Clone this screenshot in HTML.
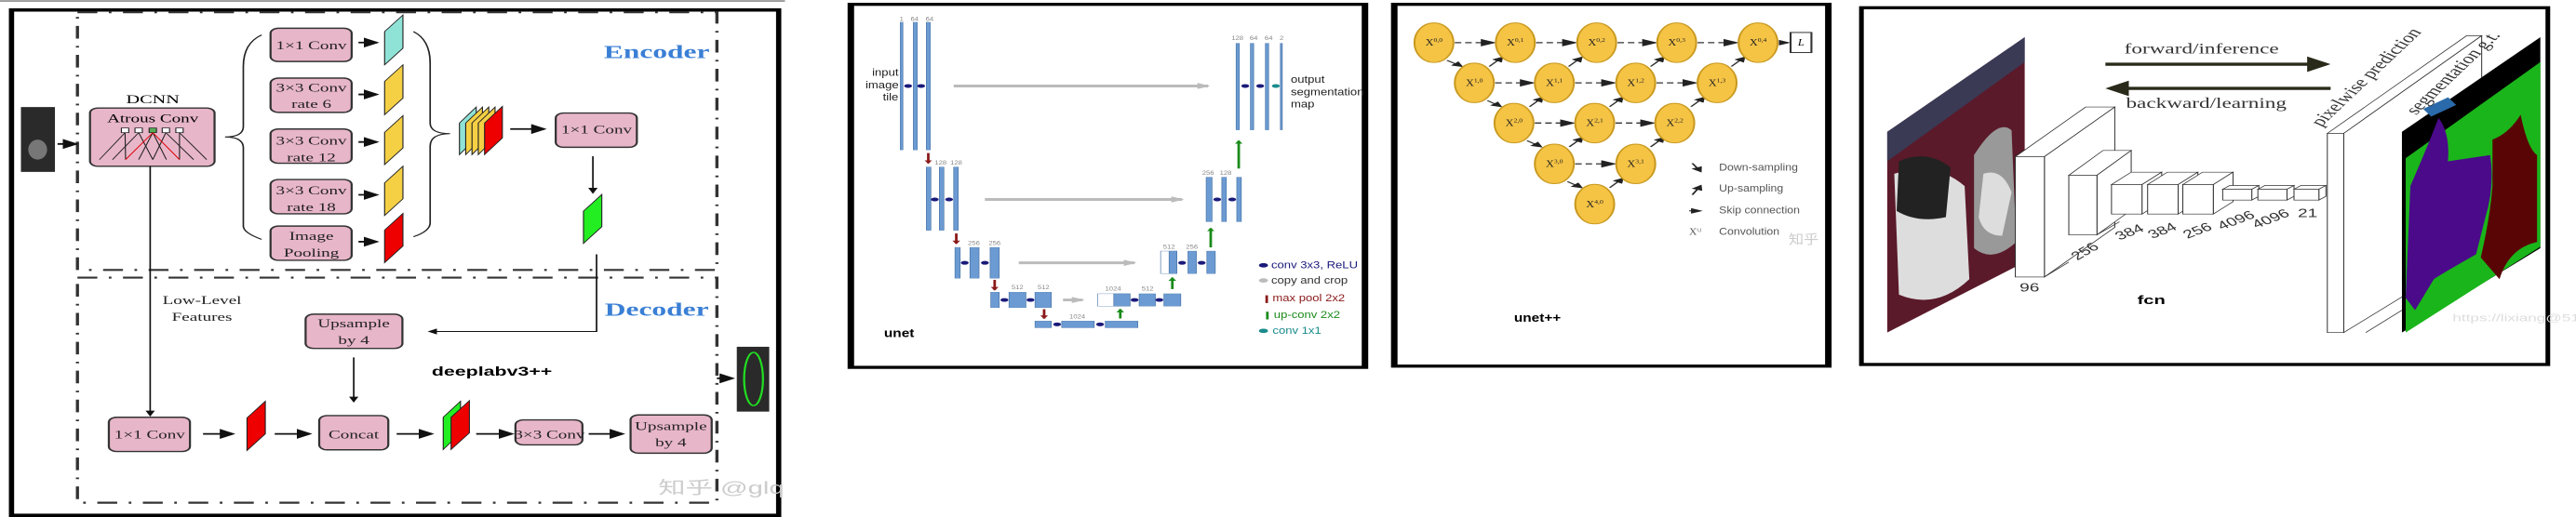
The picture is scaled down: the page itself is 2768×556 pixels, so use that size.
<!DOCTYPE html>
<html><head><meta charset="utf-8"><style>
html,body{margin:0;padding:0;background:#fff;}
body{width:2768px;height:556px;position:relative;overflow:hidden;}
svg{position:absolute;top:0;}
.s{font-family:"Liberation Serif","Noto Serif CJK SC",serif;}
.a{font-family:"Liberation Sans","Noto Sans CJK SC",sans-serif;}
</style></head><body>
<!-- Panel 1: deeplabv3++ -->
<svg style="left:0;width:880px;height:556px" viewBox="0 0 1565 1555" preserveAspectRatio="none">
<defs>
<marker id="ah" markerWidth="6" markerHeight="6" refX="5" refY="3" orient="auto" markerUnits="strokeWidth"><path d="M0,0 L6,3 L0,6 z" fill="#111"/></marker>
</defs>
<line x1="0" y1="3" x2="1500" y2="3" stroke="#999" stroke-width="5"/>
<rect x="22" y="30" width="1466" height="1520" fill="#fff" stroke="#000" stroke-width="10"/>
<rect x="148" y="37" width="1222" height="775" fill="none" stroke="#333" stroke-width="6" stroke-dasharray="38,22,5,22"/>
<rect x="148" y="835" width="1222" height="677" fill="none" stroke="#333" stroke-width="6" stroke-dasharray="38,22,5,22"/>
<rect x="40" y="322" width="65" height="195" fill="#2a2a2a"/>
<ellipse cx="72" cy="450" rx="18" ry="30" fill="#777"/>
<line x1="110" y1="433" x2="145" y2="433" stroke="#111" stroke-width="5" marker-end="url(#ah)"/>
<text class="s" x="292" y="310" font-size="36" text-anchor="middle">DCNN</text>
<g>
<rect x="172" y="325" width="238" height="175" rx="15" fill="#e8b6c9" stroke="#333" stroke-width="4"/>
<text class="s" x="292" y="368" font-size="34" text-anchor="middle">Atrous Conv</text>
<g stroke="#222" stroke-width="2" fill="#fff">
<rect x="232" y="385" width="14" height="14"/><rect x="258" y="385" width="14" height="14"/><rect x="285" y="385" width="14" height="14" fill="#5a5"/><rect x="310" y="385" width="14" height="14"/><rect x="336" y="385" width="14" height="14"/>
<path d="M239,399 L190,480 M239,399 L240,480 M265,399 L215,480 M265,399 L292,480 M292,399 L265,480 M292,399 L318,480 M317,399 L292,480 M317,399 L370,480 M343,399 L343,480 M343,399 L395,480" fill="none"/>
</g>
<path d="M292,399 L240,480 M292,399 L343,480" stroke="#d00" stroke-width="2"/>
</g>
<path d="M500,105 Q465,130 465,200 L465,380 Q465,412 430,412 Q465,412 465,445 L465,680 Q465,700 500,720" fill="none" stroke="#222" stroke-width="3"/>
<path d="M790,95 Q822,120 822,190 L822,370 Q822,402 860,402 Q822,402 822,440 L822,670 Q822,695 790,712" fill="none" stroke="#222" stroke-width="3"/>
<g stroke="#333" stroke-width="4">
<rect x="517" y="85" width="155" height="100" rx="15" fill="#e8b6c9"/>
<rect x="517" y="235" width="155" height="103" rx="15" fill="#e8b6c9"/>
<rect x="517" y="388" width="155" height="103" rx="15" fill="#e8b6c9"/>
<rect x="517" y="540" width="155" height="103" rx="15" fill="#e8b6c9"/>
<rect x="517" y="680" width="155" height="103" rx="15" fill="#e8b6c9"/>
<rect x="1062" y="340" width="155" height="103" rx="15" fill="#e8b6c9"/>
<rect x="584" y="945" width="185" height="103" rx="15" fill="#e8b6c9"/>
<rect x="208" y="1255" width="155" height="103" rx="15" fill="#e8b6c9"/>
<rect x="610" y="1250" width="132" height="103" rx="15" fill="#e8b6c9"/>
<rect x="985" y="1263" width="128" height="75" rx="15" fill="#e8b6c9"/>
<rect x="1205" y="1248" width="155" height="115" rx="15" fill="#e8b6c9"/>
</g>
<g class="s" font-size="34" text-anchor="middle" fill="#222">
<text x="595" y="148">1×1 Conv</text>
<text x="595" y="275">3×3 Conv</text><text x="595" y="325">rate 6</text>
<text x="595" y="435">3×3 Conv</text><text x="595" y="485">rate 12</text>
<text x="595" y="585">3×3 Conv</text><text x="595" y="635">rate 18</text>
<text x="595" y="722">Image</text><text x="595" y="772">Pooling</text>
<text x="1140" y="402">1×1 Conv</text>
<text x="676" y="985">Upsample</text><text x="676" y="1035">by 4</text>
<text x="286" y="1318">1×1 Conv</text>
<text x="676" y="1318">Concat</text>
<text x="1050" y="1318">3×3 Conv</text>
<text x="1282" y="1293">Upsample</text><text x="1282" y="1343">by 4</text>
<text x="386" y="915">Low-Level</text><text x="386" y="965">Features</text>
</g>
<g stroke="#111" stroke-width="5" marker-end="url(#ah)">
<line x1="685" y1="128" x2="720" y2="128"/><line x1="685" y1="284" x2="720" y2="284"/><line x1="685" y1="427" x2="720" y2="427"/><line x1="685" y1="586" x2="720" y2="586"/><line x1="685" y1="727" x2="720" y2="727"/>
<line x1="975" y1="388" x2="1040" y2="388"/>
<line x1="388" y1="1305" x2="445" y2="1305"/><line x1="525" y1="1305" x2="592" y2="1305"/><line x1="758" y1="1305" x2="825" y2="1305"/><line x1="910" y1="1305" x2="978" y2="1305"/><line x1="1125" y1="1305" x2="1190" y2="1305"/>
<line x1="1370" y1="1138" x2="1400" y2="1138"/>
</g>
<g stroke="#111" stroke-width="3" marker-end="url(#ah)">
<line x1="1133" y1="470" x2="1133" y2="580"/>
<line x1="676" y1="1075" x2="676" y2="1208"/>
<line x1="287" y1="500" x2="287" y2="1250"/>
<polyline points="1140,765 1140,997 820,997" fill="none"/>
</g>
<g stroke="#222" stroke-width="2">
<polygon points="735,95 770,45 770,145 735,195" fill="#8fe3d6"/>
<polygon points="735,245 770,195 770,295 735,345" fill="#f5d044"/>
<polygon points="735,398 770,348 770,445 735,495" fill="#f5d044"/>
<polygon points="735,550 770,500 770,598 735,648" fill="#f5d044"/>
<polygon points="735,692 770,642 770,740 735,790" fill="#e00"/>
<polygon points="878,370 910,322 910,415 878,465" fill="#8fe3d6"/>
<polygon points="890,370 922,322 922,415 890,465" fill="#f5d044"/>
<polygon points="902,370 934,322 934,415 902,465" fill="#f5d044"/>
<polygon points="914,370 946,322 946,415 914,465" fill="#f5d044"/>
<polygon points="926,370 960,320 960,415 926,465" fill="#e00"/>
<polygon points="1115,635 1150,585 1150,682 1115,732" fill="#2e2"/>
<polygon points="472,1257 507,1207 507,1305 472,1355" fill="#e00"/>
<polygon points="847,1255 880,1207 880,1302 847,1352" fill="#2e2"/>
<polygon points="862,1255 897,1205 897,1302 862,1352" fill="#e00"/>
</g>
<rect x="1408" y="1043" width="62" height="195" fill="#2a2a2a"/>
<ellipse cx="1440" cy="1140" rx="18" ry="80" fill="none" stroke="#2d2" stroke-width="4"/>
<text class="s" x="1255" y="175" font-size="56" font-weight="bold" fill="#3a7fd5" text-anchor="middle">Encoder</text>
<text class="s" x="1255" y="950" font-size="56" font-weight="bold" fill="#3a7fd5" text-anchor="middle">Decoder</text>
<text class="a" x="825" y="1130" font-size="38" font-weight="bold">deeplabv3++</text>
<text class="a" x="1258" y="1485" font-size="52" fill="#ccc">知乎 @glq</text>
</svg>

<!-- Panels 2 & 3 -->
<svg id="p23" style="left:880px;width:1100px;height:420px" viewBox="0 0 1573 1263" preserveAspectRatio="none">
<defs>
<marker id="bh" markerWidth="6" markerHeight="6" refX="5" refY="3" orient="auto" markerUnits="strokeWidth"><path d="M0,0 L6,3 L0,6 z" fill="#222"/></marker>
<marker id="gh" viewBox="0 0 6 6" markerWidth="2.2" markerHeight="2.2" refX="5" refY="3" orient="auto" markerUnits="strokeWidth"><path d="M0,0 L6,3 L0,6 z" fill="#bbb"/></marker>
<marker id="rh" viewBox="0 0 6 6" markerWidth="3" markerHeight="3" refX="5" refY="3" orient="auto" markerUnits="strokeWidth"><path d="M0,0 L6,3 L0,6 z" fill="#8b1a1a"/></marker>
<marker id="vh" viewBox="0 0 6 6" markerWidth="3" markerHeight="3" refX="5" refY="3" orient="auto" markerUnits="strokeWidth"><path d="M0,0 L6,3 L0,6 z" fill="#1a8b1a"/></marker>
</defs>
<rect x="49" y="14" width="790" height="1174" fill="#fff" stroke="#000" stroke-width="10"/>
<g fill="#6b9bd2" stroke="#4a75a8" stroke-width="1">
<rect x="125" y="72" width="4" height="413"/><rect x="145" y="72" width="6" height="413"/><rect x="165" y="72" width="6" height="413"/>
<rect x="641" y="140" width="5" height="280"/><rect x="663" y="140" width="5" height="280"/><rect x="686" y="140" width="5" height="280"/><rect x="709" y="140" width="3" height="280"/>
<rect x="165" y="540" width="7" height="205"/><rect x="185" y="540" width="7" height="205"/><rect x="207" y="540" width="7" height="205"/>
<rect x="595" y="573" width="9" height="144"/><rect x="619" y="573" width="7" height="144"/><rect x="642" y="573" width="7" height="144"/>
<rect x="209" y="800" width="8" height="100"/><rect x="232" y="800" width="14" height="100"/><rect x="263" y="800" width="14" height="100"/>
<rect x="525" y="812" width="25" height="73" fill="#fff"/><rect x="538" y="812" width="12" height="73"/><rect x="567" y="812" width="13" height="73"/><rect x="596" y="812" width="13" height="73"/>
<rect x="264" y="945" width="13" height="50"/><rect x="292" y="945" width="26" height="50"/><rect x="332" y="945" width="25" height="50"/>
<rect x="428" y="950" width="50" height="40" fill="#fff"/><rect x="453" y="950" width="25" height="40"/><rect x="492" y="950" width="25" height="40"/><rect x="530" y="950" width="26" height="40"/>
<rect x="332" y="1038" width="25" height="22"/><rect x="373" y="1038" width="50" height="22"/><rect x="440" y="1038" width="50" height="22"/>
</g>
<g stroke="#bbb" stroke-width="9" marker-end="url(#gh)">
<line x1="207" y1="278" x2="598" y2="278"/><line x1="255" y1="645" x2="558" y2="645"/><line x1="307" y1="850" x2="485" y2="850"/><line x1="375" y1="970" x2="405" y2="970"/>
</g>
<g stroke="#8b1a1a" stroke-width="4" marker-end="url(#rh)"><line x1="168" y1="495" x2="168" y2="528"/><line x1="211" y1="755" x2="211" y2="788"/><line x1="270" y1="905" x2="270" y2="938"/><line x1="346" y1="1000" x2="346" y2="1030"/></g>
<g stroke="#1a8b1a" stroke-width="4" marker-end="url(#vh)"><line x1="645" y1="545" x2="645" y2="455"/><line x1="602" y1="800" x2="602" y2="738"/><line x1="543" y1="935" x2="543" y2="898"/><line x1="463" y1="1030" x2="463" y2="1000"/></g>
<g fill="#1a1a7a"><circle cx="137" cy="278" r="6"/><circle cx="157" cy="278" r="6"/><circle cx="655" cy="278" r="6"/><circle cx="678" cy="278" r="6"/><circle cx="178" cy="645" r="6"/><circle cx="200" cy="645" r="6"/><circle cx="612" cy="645" r="6"/><circle cx="635" cy="645" r="6"/><circle cx="224" cy="850" r="6"/><circle cx="255" cy="850" r="6"/><circle cx="558" cy="850" r="6"/><circle cx="588" cy="850" r="6"/><circle cx="285" cy="970" r="6"/><circle cx="325" cy="970" r="6"/><circle cx="485" cy="970" r="6"/><circle cx="523" cy="970" r="6"/><circle cx="366" cy="1049" r="6"/><circle cx="432" cy="1049" r="6"/></g>
<circle cx="702" cy="278" r="6" fill="#1a8b8b"/>
<g class="a" font-size="20" fill="#888" text-anchor="middle">
<text x="127" y="68">1</text><text x="147" y="68">64</text><text x="170" y="68">64</text>
<text x="643" y="130">128</text><text x="668" y="130">64</text><text x="691" y="130">64</text><text x="711" y="130">2</text>
<text x="187" y="533">128</text><text x="211" y="533">128</text><text x="598" y="565">256</text><text x="625" y="565">128</text>
<text x="238" y="793">256</text><text x="270" y="793">256</text><text x="538" y="805">512</text><text x="573" y="805">256</text>
<text x="305" y="935">512</text><text x="345" y="935">512</text><text x="452" y="940">1024</text><text x="505" y="940">512</text><text x="397" y="1030">1024</text>
</g>
<g class="a" font-size="34" fill="#222" text-anchor="middle">
<text x="102" y="245">input</text><text x="97" y="285">image</text><text x="110" y="325">tile</text>
</g>
<g class="a" font-size="34" fill="#222"><text x="725" y="268">output</text><text x="725" y="308">segmentation</text><text x="725" y="348">map</text></g>
<g class="a" font-size="34">
<text x="695" y="868" fill="#1a1a7a">conv 3x3, ReLU</text><circle cx="683" cy="858" r="7" fill="#1a1a7a"/>
<text x="695" y="917" fill="#333">copy and crop</text><circle cx="683" cy="907" r="7" fill="#bbb"/>
<text x="697" y="975" fill="#8b1a1a">max pool 2x2</text><rect x="686" y="955" width="4" height="25" fill="#8b1a1a"/>
<text x="699" y="1028" fill="#1a8b1a">up-conv 2x2</text><rect x="687" y="1008" width="4" height="25" fill="#1a8b1a"/>
<text x="697" y="1080" fill="#1a8b8b">conv 1x1</text><circle cx="683" cy="1070" r="7" fill="#1a8b8b"/>
</g>
<text class="a" x="100" y="1090" font-size="40" font-weight="bold">unet</text>

<rect x="884" y="14" width="667" height="1170" fill="#fff" stroke="#000" stroke-width="10"/>
<g stroke="#333" stroke-width="4" stroke-dasharray="10,6" marker-end="url(#bh)">
<line x1="977" y1="138" x2="1037" y2="138"/><line x1="1102" y1="138" x2="1162" y2="138"/><line x1="1227" y1="138" x2="1285" y2="138"/><line x1="1350" y1="138" x2="1410" y2="138"/>
<line x1="1039" y1="268" x2="1097" y2="268"/><line x1="1162" y1="268" x2="1222" y2="268"/><line x1="1287" y1="268" x2="1347" y2="268"/>
<line x1="1100" y1="398" x2="1159" y2="398"/><line x1="1224" y1="398" x2="1282" y2="398"/>
<line x1="1162" y1="530" x2="1222" y2="530"/>
</g>
<g stroke="#333" stroke-width="3" marker-end="url(#bh)">
<line x1="965" y1="195" x2="988" y2="215"/><line x1="1027" y1="325" x2="1048" y2="345"/><line x1="1088" y1="455" x2="1110" y2="475"/><line x1="1150" y1="587" x2="1172" y2="607"/>
<line x1="1030" y1="215" x2="1050" y2="185"/><line x1="1092" y1="345" x2="1112" y2="315"/><line x1="1153" y1="475" x2="1173" y2="445"/><line x1="1215" y1="607" x2="1235" y2="577"/>
<line x1="1152" y1="215" x2="1172" y2="185"/><line x1="1215" y1="345" x2="1235" y2="315"/><line x1="1278" y1="475" x2="1298" y2="445"/>
<line x1="1278" y1="215" x2="1298" y2="185"/><line x1="1340" y1="345" x2="1360" y2="315"/>
<line x1="1402" y1="215" x2="1422" y2="185"/>
<line x1="1475" y1="138" x2="1490" y2="138"/>
</g>
<g fill="#f6c445" stroke="#c99a20" stroke-width="3">
<ellipse cx="945" cy="138" rx="30" ry="64"/><ellipse cx="1070" cy="138" rx="30" ry="64"/><ellipse cx="1195" cy="138" rx="30" ry="64"/><ellipse cx="1318" cy="138" rx="30" ry="64"/><ellipse cx="1443" cy="138" rx="30" ry="64"/>
<ellipse cx="1007" cy="268" rx="30" ry="64"/><ellipse cx="1130" cy="268" rx="30" ry="64"/><ellipse cx="1255" cy="268" rx="30" ry="64"/><ellipse cx="1380" cy="268" rx="30" ry="64"/>
<ellipse cx="1068" cy="398" rx="30" ry="64"/><ellipse cx="1192" cy="398" rx="30" ry="64"/><ellipse cx="1315" cy="398" rx="30" ry="64"/>
<ellipse cx="1130" cy="530" rx="30" ry="64"/><ellipse cx="1255" cy="530" rx="30" ry="64"/>
<ellipse cx="1192" cy="660" rx="30" ry="64"/>
</g>
<g class="s" font-size="32" fill="#222" text-anchor="middle">
<text x="945" y="148">X<tspan font-size="20" dy="-12">0,0</tspan></text><text x="1070" y="148">X<tspan font-size="20" dy="-12">0,1</tspan></text><text x="1195" y="148">X<tspan font-size="20" dy="-12">0,2</tspan></text><text x="1318" y="148">X<tspan font-size="20" dy="-12">0,3</tspan></text><text x="1443" y="148">X<tspan font-size="20" dy="-12">0,4</tspan></text>
<text x="1007" y="278">X<tspan font-size="20" dy="-12">1,0</tspan></text><text x="1130" y="278">X<tspan font-size="20" dy="-12">1,1</tspan></text><text x="1255" y="278">X<tspan font-size="20" dy="-12">1,2</tspan></text><text x="1380" y="278">X<tspan font-size="20" dy="-12">1,3</tspan></text>
<text x="1068" y="408">X<tspan font-size="20" dy="-12">2,0</tspan></text><text x="1192" y="408">X<tspan font-size="20" dy="-12">2,1</tspan></text><text x="1315" y="408">X<tspan font-size="20" dy="-12">2,2</tspan></text>
<text x="1130" y="540">X<tspan font-size="20" dy="-12">3,0</tspan></text><text x="1255" y="540">X<tspan font-size="20" dy="-12">3,1</tspan></text>
<text x="1192" y="670">X<tspan font-size="20" dy="-12">4,0</tspan></text>
</g>
<rect x="1493" y="105" width="32" height="65" fill="#fff" stroke="#333" stroke-width="3"/>
<text class="s" x="1509" y="148" font-size="32" font-style="italic" text-anchor="middle">L</text>
<g class="a" font-size="32" fill="#555">
<line x1="1342" y1="528" x2="1355" y2="555" stroke="#222" stroke-width="3" marker-end="url(#bh)"/><text x="1383" y="552">Down-sampling</text>
<line x1="1342" y1="630" x2="1355" y2="600" stroke="#222" stroke-width="3" marker-end="url(#bh)"/><text x="1383" y="620">Up-sampling</text>
<line x1="1337" y1="682" x2="1355" y2="682" stroke="#222" stroke-width="3" stroke-dasharray="6,4" marker-end="url(#bh)"/><text x="1383" y="690">Skip connection</text>
<text x="1337" y="760" class="s" font-size="30">X<tspan font-size="16" dy="-12">i,j</tspan></text><text x="1383" y="760">Convolution</text>
</g>
<text class="a" x="1490" y="790" font-size="42" fill="#ccc">知乎</text>
<text class="a" x="1068" y="1040" font-size="40" font-weight="bold">unet++</text>
</svg>

<!-- Panel 4: fcn -->
<svg style="left:1980px;width:788px;height:420px" viewBox="0 0 1563 1259" preserveAspectRatio="none">
<defs>
<marker id="ch" markerWidth="5" markerHeight="5" refX="4" refY="2.5" orient="auto" markerUnits="strokeWidth"><path d="M0,0 L5,2.5 L0,5 z" fill="#2a2a1a"/></marker>
</defs>
<rect x="40" y="25" width="1463" height="1150" fill="#fff" stroke="#000" stroke-width="10"/>
<g>
<polygon points="95,425 388,120 388,845 95,1072" fill="#5a1a2a"/>
<polygon points="95,425 388,120 388,200 95,520" fill="#3a3a55"/>
<path d="M110,560 Q200,520 260,600 L270,900 Q200,1000 120,950 Z" fill="#ddd"/>
<path d="M120,520 Q180,480 230,540 L220,700 Q160,720 115,680 Z" fill="#222"/>
<path d="M280,500 Q330,380 360,420 L370,780 Q320,850 280,800 Z" fill="#999"/>
<path d="M300,560 Q340,540 360,620 L340,760 Q300,760 290,700 Z" fill="#ddd"/>
</g>
<g fill="#fff" stroke="#333" stroke-width="2">
<polygon points="368,505 518,345 580,345 430,505"/><polygon points="430,505 580,345 580,733 430,893"/><rect x="368" y="505" width="62" height="388"/>
<polygon points="482,565 555,485 615,485 542,565"/><polygon points="542,565 615,485 615,677 542,757"/><rect x="482" y="565" width="60" height="192"/>
<polygon points="573,595 615,555 680,555 638,595"/><polygon points="638,595 680,555 680,650 638,690"/><rect x="573" y="595" width="65" height="95"/>
<polygon points="650,595 692,555 757,555 715,595"/><polygon points="715,595 757,555 757,650 715,690"/><rect x="650" y="595" width="65" height="95"/>
<polygon points="725,595 767,555 832,555 790,595"/><polygon points="790,595 832,555 832,650 790,690"/><rect x="725" y="595" width="65" height="95"/>
<polygon points="810,610 825,598 887,598 872,610"/><polygon points="872,610 887,598 887,633 872,645"/><rect x="810" y="610" width="62" height="35"/>
<polygon points="885,610 900,598 962,598 947,610"/><polygon points="947,610 962,598 962,633 947,645"/><rect x="885" y="610" width="62" height="35"/>
<polygon points="962,610 977,598 1030,598 1015,610"/><polygon points="1015,610 1030,598 1030,633 1015,645"/><rect x="962" y="610" width="53" height="35"/>
<polygon points="1033,430 1330,115 1362,115 1068,430"/><polygon points="1068,430 1362,115 1362,800 1068,1072"/><rect x="1033" y="430" width="35" height="642"/>
</g>
<g stroke="#333" stroke-width="2"><line x1="430" y1="893" x2="482" y2="845"/><line x1="542" y1="757" x2="590" y2="715"/><line x1="1115" y1="1072" x2="1192" y2="1000"/></g>
<g>
<polygon points="1192,425 1487,120 1487,800 1192,1072" fill="#000"/>
<polygon points="1200,510 1487,200 1487,795 1200,1072" fill="#1ab51a"/>
<path d="M1210,600 Q1250,460 1270,380 Q1295,430 1290,520 L1380,500 Q1390,600 1370,700 L1350,820 Q1280,880 1260,900 L1220,1000 L1200,960 Z" fill="#4a0a8a"/>
<path d="M1385,450 Q1420,430 1445,370 Q1460,480 1480,500 L1480,780 Q1420,800 1400,900 L1360,830 Q1380,700 1385,600 Z" fill="#5a0505"/>
<rect x="1240" y="330" width="65" height="30" fill="#2a6aaa" transform="rotate(-35 1272 345)"/>
</g>
<line x1="560" y1="207" x2="1030" y2="207" stroke="#2a2a1a" stroke-width="10" marker-end="url(#ch)"/>
<line x1="1040" y1="285" x2="570" y2="285" stroke="#2a2a1a" stroke-width="10" marker-end="url(#ch)"/>
<g class="s" font-size="46" fill="#333">
<text x="765" y="172" text-anchor="middle">forward/inference</text>
<text x="775" y="348" text-anchor="middle">backward/learning</text>
<text x="1020" y="410" transform="rotate(-55 1020 410)">pixelwise prediction</text>
<text x="1222" y="372" transform="rotate(-55 1222 372)">segmentation g.t.</text>
</g>
<g class="a" font-size="38" fill="#333">
<text x="377" y="940">96</text>
<text x="500" y="840" transform="rotate(-40 500 840)">256</text>
<text x="590" y="775" transform="rotate(-30 590 775)">384</text>
<text x="660" y="770" transform="rotate(-30 660 770)">384</text>
<text x="735" y="770" transform="rotate(-30 735 770)">256</text>
<text x="808" y="742" transform="rotate(-30 808 742)">4096</text>
<text x="882" y="737" transform="rotate(-30 882 737)">4096</text>
<text x="970" y="700">21</text>
</g>
<text class="a" x="1300" y="1035" font-size="34" fill="#ddd">https://lixiang@51c</text>
<text class="a" x="628" y="980" font-size="40" font-weight="bold">fcn</text>
</svg>
<script>
(function(){
  var ts = document.querySelectorAll('#p23 text');
  for (var i = 0; i < ts.length; i++) {
    var t = ts[i];
    var x = parseFloat(t.getAttribute('x')) || 0;
    t.setAttribute('transform', 'translate(' + x + ',0) scale(0.55,1) translate(' + (-x) + ',0)');
  }
})();
</script>
</body></html>
